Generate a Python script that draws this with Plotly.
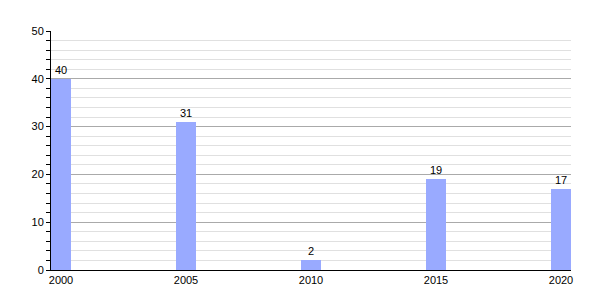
import plotly.graph_objects as go

years = [2000, 2005, 2010, 2015, 2020]
values = [40, 31, 2, 19, 17]
y_ticks = [0, 10, 20, 30, 40, 50]

fig = go.Figure()
fig.add_trace(go.Bar(
    x=years, y=values, width=0.8,
    marker=dict(color="#99aaff", line=dict(width=0)),
    text=[str(v) for v in values], textposition="outside",
    textfont=dict(size=11, color="#000000"),
    cliponaxis=False,
))
fig.update_layout(
    width=600, height=300,
    margin=dict(l=51, r=29, t=31, b=30),
    plot_bgcolor="white", paper_bgcolor="white",
    font=dict(family="Liberation Sans, Arial, sans-serif", size=11, color="#000000"),
    showlegend=False,
    bargap=0,
)
fig.update_xaxes(
    range=[1999.6, 2020.4], tickvals=years, ticktext=[str(y) for y in years],
    showgrid=False, showline=True, linecolor="#000000", linewidth=1,
    ticks="", ticklen=0, zeroline=False, tickfont=dict(size=11),
)
fig.update_yaxes(
    range=[0, 50], tickvals=y_ticks, showgrid=True, gridcolor="#aaaaaa", gridwidth=1,
    showline=True, linecolor="#000000", linewidth=1, ticks="outside", ticklen=4,
    tickcolor="#000000", zeroline=False, tickfont=dict(size=11),
    minor=dict(dtick=2, showgrid=True, gridcolor="#e0e0e0", gridwidth=1,
               ticks="outside", ticklen=4, tickcolor="#000000"),
)
fig.write_html("out.html")
